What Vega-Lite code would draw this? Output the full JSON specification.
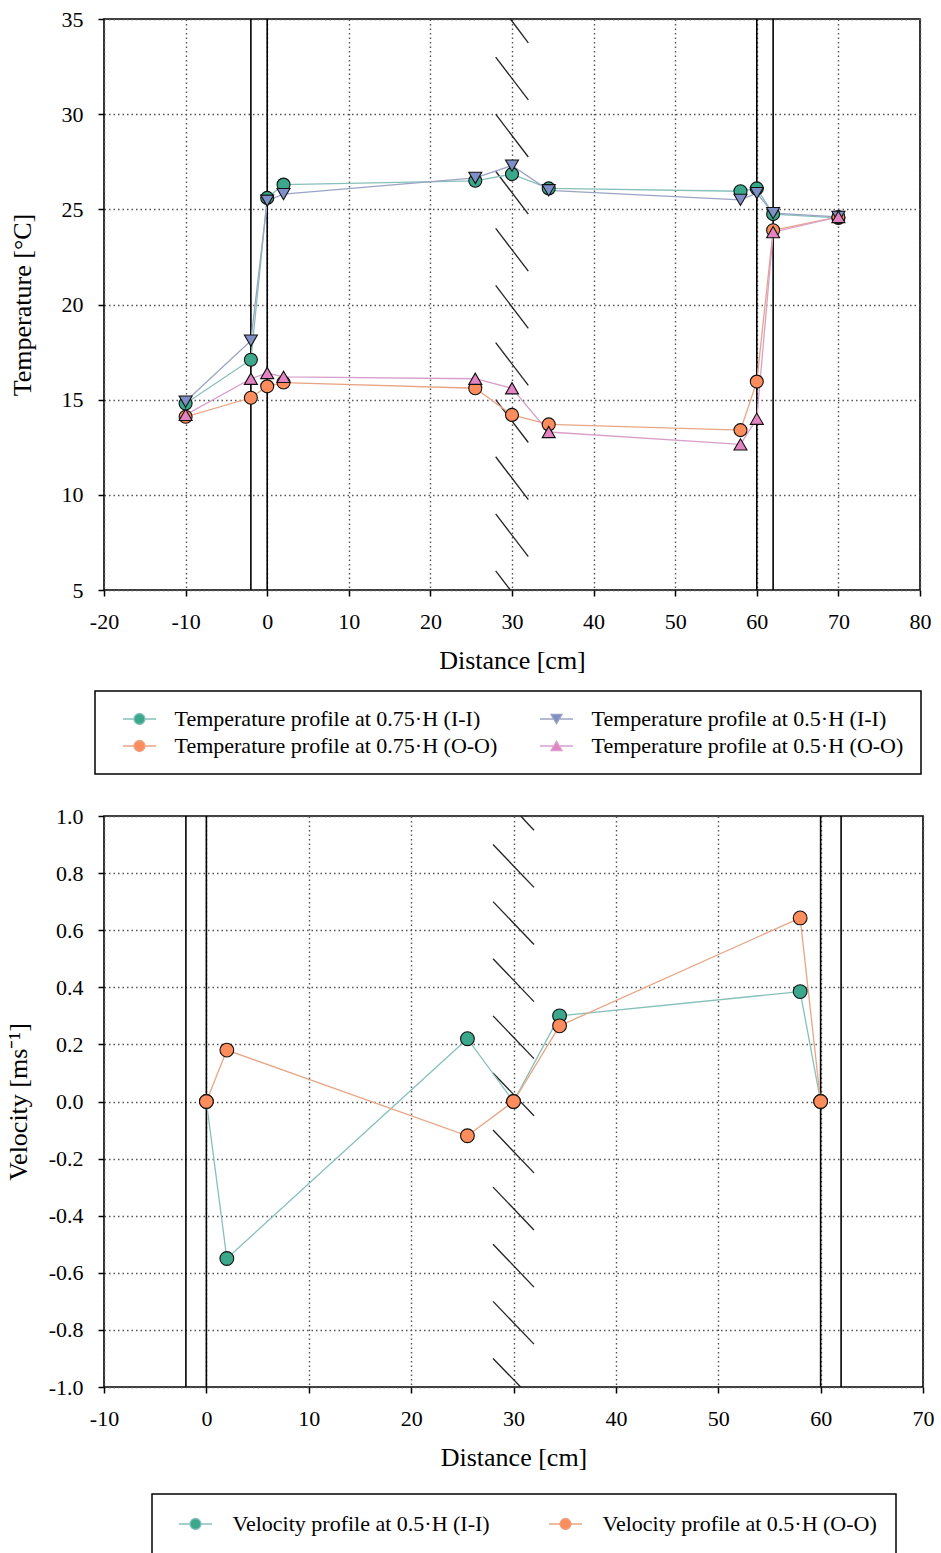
{
  "$schema": "https://vega.github.io/schema/vega-lite/v6.json",
  "background": "white",
  "padding": {"left": 4, "top": 7, "right": 0, "bottom": 0},
  "spacing": 28,
  "resolve": {
    "scale": {"fill": "independent", "stroke": "independent", "shape": "independent", "x": "independent", "y": "independent"},
    "legend": {"fill": "independent", "stroke": "independent", "shape": "independent"}
  },
  "datasets": {
    "temp": [
      {"d": -10, "t": 14.8, "series": "Temperature profile at 0.75·H (I-I)"},
      {"d": -2, "t": 17.1, "series": "Temperature profile at 0.75·H (I-I)"},
      {"d": 0, "t": 25.6, "series": "Temperature profile at 0.75·H (I-I)"},
      {"d": 2, "t": 26.3, "series": "Temperature profile at 0.75·H (I-I)"},
      {"d": 25.5, "t": 26.5, "series": "Temperature profile at 0.75·H (I-I)"},
      {"d": 30, "t": 26.85, "series": "Temperature profile at 0.75·H (I-I)"},
      {"d": 34.5, "t": 26.1, "series": "Temperature profile at 0.75·H (I-I)"},
      {"d": 58, "t": 25.95, "series": "Temperature profile at 0.75·H (I-I)"},
      {"d": 60, "t": 26.1, "series": "Temperature profile at 0.75·H (I-I)"},
      {"d": 62, "t": 24.75, "series": "Temperature profile at 0.75·H (I-I)"},
      {"d": 70, "t": 24.55, "series": "Temperature profile at 0.75·H (I-I)"},
      {"d": -10, "t": 14.1, "series": "Temperature profile at 0.75·H (O-O)"},
      {"d": -2, "t": 15.1, "series": "Temperature profile at 0.75·H (O-O)"},
      {"d": 0, "t": 15.7, "series": "Temperature profile at 0.75·H (O-O)"},
      {"d": 2, "t": 15.9, "series": "Temperature profile at 0.75·H (O-O)"},
      {"d": 25.5, "t": 15.6, "series": "Temperature profile at 0.75·H (O-O)"},
      {"d": 30, "t": 14.2, "series": "Temperature profile at 0.75·H (O-O)"},
      {"d": 34.5, "t": 13.7, "series": "Temperature profile at 0.75·H (O-O)"},
      {"d": 58, "t": 13.4, "series": "Temperature profile at 0.75·H (O-O)"},
      {"d": 60, "t": 15.95, "series": "Temperature profile at 0.75·H (O-O)"},
      {"d": 62, "t": 23.9, "series": "Temperature profile at 0.75·H (O-O)"},
      {"d": 70, "t": 24.6, "series": "Temperature profile at 0.75·H (O-O)"},
      {"d": -10, "t": 14.9, "series": "Temperature profile at 0.5·H (I-I)"},
      {"d": -2, "t": 18.1, "series": "Temperature profile at 0.5·H (I-I)"},
      {"d": 0, "t": 25.45, "series": "Temperature profile at 0.5·H (I-I)"},
      {"d": 2, "t": 25.8, "series": "Temperature profile at 0.5·H (I-I)"},
      {"d": 25.5, "t": 26.65, "series": "Temperature profile at 0.5·H (I-I)"},
      {"d": 30, "t": 27.3, "series": "Temperature profile at 0.5·H (I-I)"},
      {"d": 34.5, "t": 26.0, "series": "Temperature profile at 0.5·H (I-I)"},
      {"d": 58, "t": 25.5, "series": "Temperature profile at 0.5·H (I-I)"},
      {"d": 60, "t": 25.85, "series": "Temperature profile at 0.5·H (I-I)"},
      {"d": 62, "t": 24.8, "series": "Temperature profile at 0.5·H (I-I)"},
      {"d": 70, "t": 24.6, "series": "Temperature profile at 0.5·H (I-I)"},
      {"d": -10, "t": 14.2, "series": "Temperature profile at 0.5·H (O-O)"},
      {"d": -2, "t": 16.1, "series": "Temperature profile at 0.5·H (O-O)"},
      {"d": 0, "t": 16.4, "series": "Temperature profile at 0.5·H (O-O)"},
      {"d": 2, "t": 16.2, "series": "Temperature profile at 0.5·H (O-O)"},
      {"d": 25.5, "t": 16.1, "series": "Temperature profile at 0.5·H (O-O)"},
      {"d": 30, "t": 15.6, "series": "Temperature profile at 0.5·H (O-O)"},
      {"d": 34.5, "t": 13.3, "series": "Temperature profile at 0.5·H (O-O)"},
      {"d": 58, "t": 12.65, "series": "Temperature profile at 0.5·H (O-O)"},
      {"d": 60, "t": 14.0, "series": "Temperature profile at 0.5·H (O-O)"},
      {"d": 62, "t": 23.8, "series": "Temperature profile at 0.5·H (O-O)"},
      {"d": 70, "t": 24.6, "series": "Temperature profile at 0.5·H (O-O)"}
    ],
    "vel": [
      {"d": 0, "v": 0.0, "series": "Velocity profile at 0.5·H (I-I)"},
      {"d": 2, "v": -0.55, "series": "Velocity profile at 0.5·H (I-I)"},
      {"d": 25.5, "v": 0.22, "series": "Velocity profile at 0.5·H (I-I)"},
      {"d": 30, "v": 0.0, "series": "Velocity profile at 0.5·H (I-I)"},
      {"d": 34.5, "v": 0.30, "series": "Velocity profile at 0.5·H (I-I)"},
      {"d": 58, "v": 0.385, "series": "Velocity profile at 0.5·H (I-I)"},
      {"d": 60, "v": 0.0, "series": "Velocity profile at 0.5·H (I-I)"},
      {"d": 0, "v": 0.0, "series": "Velocity profile at 0.5·H (O-O)"},
      {"d": 2, "v": 0.18, "series": "Velocity profile at 0.5·H (O-O)"},
      {"d": 25.5, "v": -0.12, "series": "Velocity profile at 0.5·H (O-O)"},
      {"d": 30, "v": 0.0, "series": "Velocity profile at 0.5·H (O-O)"},
      {"d": 34.5, "v": 0.265, "series": "Velocity profile at 0.5·H (O-O)"},
      {"d": 58, "v": 0.643, "series": "Velocity profile at 0.5·H (O-O)"},
      {"d": 60, "v": 0.0, "series": "Velocity profile at 0.5·H (O-O)"}
    ],
    "walls": [{"x": -2}, {"x": 0}, {"x": 60}, {"x": 62}],
    "hatchTop": [
      {"x1": 29.8, "y1": 35, "x2": 32, "y2": 33.75},
      {"x1": 28, "y1": 33, "x2": 32, "y2": 30.75},
      {"x1": 28, "y1": 30, "x2": 32, "y2": 27.75},
      {"x1": 28, "y1": 27, "x2": 32, "y2": 24.75},
      {"x1": 28, "y1": 24, "x2": 32, "y2": 21.75},
      {"x1": 28, "y1": 21, "x2": 32, "y2": 18.75},
      {"x1": 28, "y1": 18, "x2": 32, "y2": 15.75},
      {"x1": 28, "y1": 15, "x2": 32, "y2": 12.75},
      {"x1": 28, "y1": 12, "x2": 32, "y2": 9.75},
      {"x1": 28, "y1": 9, "x2": 32, "y2": 6.75},
      {"x1": 28, "y1": 6, "x2": 29.8, "y2": 5}
    ],
    "hatchBottom": [
      {"x1": 30.7, "y1": 1.0, "x2": 32, "y2": 0.95},
      {"x1": 28, "y1": 0.9, "x2": 32, "y2": 0.75},
      {"x1": 28, "y1": 0.7, "x2": 32, "y2": 0.55},
      {"x1": 28, "y1": 0.5, "x2": 32, "y2": 0.35},
      {"x1": 28, "y1": 0.3, "x2": 32, "y2": 0.15},
      {"x1": 28, "y1": 0.1, "x2": 32, "y2": -0.05},
      {"x1": 28, "y1": -0.1, "x2": 32, "y2": -0.25},
      {"x1": 28, "y1": -0.3, "x2": 32, "y2": -0.45},
      {"x1": 28, "y1": -0.5, "x2": 32, "y2": -0.65},
      {"x1": 28, "y1": -0.7, "x2": 32, "y2": -0.85},
      {"x1": 28, "y1": -0.9, "x2": 30.7, "y2": -1.0}
    ]
  },
  "vconcat": [
    {
      "width": 816,
      "height": 571,
      "layer": [
        {
          "data": {"name": "walls"},
          "mark": {"type": "rule", "color": "black", "strokeWidth": 1.6},
          "encoding": {
            "x": {"field": "x", "type": "quantitative", "scale": {"domain": [-20, 80], "nice": false},
              "axis": {"title": "Distance [cm]", "values": [-20, -10, 0, 10, 20, 30, 40, 50, 60, 70, 80], "titlePadding": 15}}
          }
        },
        {
          "data": {"name": "hatchTop"},
          "mark": {"type": "rule", "color": "#222", "strokeWidth": 1.3},
          "encoding": {
            "x": {"field": "x1", "type": "quantitative"},
            "x2": {"field": "x2"},
            "y": {"field": "y1", "type": "quantitative", "scale": {"domain": [5, 35], "nice": false},
              "axis": {"title": "Temperature [°C]", "values": [5, 10, 15, 20, 25, 30, 35], "titlePadding": 26}},
            "y2": {"field": "y2"}
          }
        },
        {
          "data": {"name": "temp"},
          "mark": {"type": "line", "strokeWidth": 1.3},
          "encoding": {
            "x": {"field": "d", "type": "quantitative"},
            "y": {"field": "t", "type": "quantitative"},
            "stroke": {"field": "series", "type": "nominal",
              "scale": {"domain": ["Temperature profile at 0.75·H (I-I)", "Temperature profile at 0.75·H (O-O)", "Temperature profile at 0.5·H (I-I)", "Temperature profile at 0.5·H (O-O)"],
                "range": ["#86c0bb", "#e8a585", "#9aa4c4", "#d99fcb"]},
              "legend": {
                "orient": "none", "legendX": -9, "legendY": 672, "title": null,
                "columns": 2, "columnPadding": 31, "rowPadding": 5, "padding": 17,
                "strokeColor": "black", "fillColor": "white",
                "labelFont": "Liberation Serif", "labelFontSize": 22, "labelColor": "black", "labelLimit": 600,
                "symbolSize": 121, "symbolOffset": 16.5, "labelOffset": 24,
                "encode": {
                  "legend": {"update": {"strokeWidth": {"value": 1.5}}},
                  "symbols": {"update": {
                    "shape": {"signal": "indexof(datum.value,'0.5')<0 ? 'M-3,0H-1M1,0H3M-1,0A1,1,0,1,1,1,0A1,1,0,1,1,-1,0Z' : (indexof(datum.value,'I-I')>=0 ? 'M-3,0H-0.5M0.5,0H3M-1,-0.85L1,-0.85L0,0.85Z' : 'M-3,0H-0.5M0.5,0H3M-1,0.85L1,0.85L0,-0.85Z')"},
                    "fill": {"signal": "indexof(datum.value,'0.5')<0 ? (indexof(datum.value,'I-I')>=0 ? '#3ba88b' : '#fd8d5c') : (indexof(datum.value,'I-I')>=0 ? '#7e8fc6' : '#e383c2')"},
                    "stroke": {"signal": "indexof(datum.value,'0.5')<0 ? (indexof(datum.value,'I-I')>=0 ? '#5aa89a' : '#e8956c') : (indexof(datum.value,'I-I')>=0 ? '#7f88aa' : '#d080b8')"},
                    "strokeWidth": {"value": 1.3},
                    "opacity": {"value": 1}
                  }}
                }
              }
            }
          }
        },
        {
          "data": {"name": "temp"},
          "mark": {"type": "point", "filled": true, "stroke": "#111", "strokeWidth": 1.1, "size": 169, "opacity": 1},
          "encoding": {
            "x": {"field": "d", "type": "quantitative"},
            "y": {"field": "t", "type": "quantitative"},
            "shape": {"field": "series", "type": "nominal", "legend": null,
              "scale": {"domain": ["Temperature profile at 0.5·H (I-I)", "Temperature profile at 0.5·H (O-O)", "Temperature profile at 0.75·H (I-I)", "Temperature profile at 0.75·H (O-O)"],
                "range": ["triangle-down", "triangle-up", "circle", "circle"]}},
            "fill": {"field": "series", "type": "nominal",
              "scale": {"domain": ["Temperature profile at 0.75·H (I-I)", "Temperature profile at 0.75·H (O-O)", "Temperature profile at 0.5·H (I-I)", "Temperature profile at 0.5·H (O-O)"],
                "range": ["#3ba88b", "#fd8d5c", "#7e8fc6", "#e383c2"]},
              "legend": {
                "orient": "none", "legendX": -9, "legendY": 672, "title": null,
                "columns": 2, "columnPadding": 31, "rowPadding": 5, "padding": 17,
                "strokeColor": "black", "fillColor": "white",
                "labelFont": "Liberation Serif", "labelFontSize": 22, "labelColor": "black", "labelLimit": 600,
                "symbolSize": 121, "symbolOffset": 16.5, "labelOffset": 24,
                "encode": {
                  "legend": {"update": {"strokeWidth": {"value": 1.5}}},
                  "symbols": {"update": {
                    "shape": {"signal": "indexof(datum.value,'0.5')<0 ? 'M-3,0H-1M1,0H3M-1,0A1,1,0,1,1,1,0A1,1,0,1,1,-1,0Z' : (indexof(datum.value,'I-I')>=0 ? 'M-3,0H-0.5M0.5,0H3M-1,-0.85L1,-0.85L0,0.85Z' : 'M-3,0H-0.5M0.5,0H3M-1,0.85L1,0.85L0,-0.85Z')"},
                    "fill": {"signal": "indexof(datum.value,'0.5')<0 ? (indexof(datum.value,'I-I')>=0 ? '#3ba88b' : '#fd8d5c') : (indexof(datum.value,'I-I')>=0 ? '#7e8fc6' : '#e383c2')"},
                    "stroke": {"signal": "indexof(datum.value,'0.5')<0 ? (indexof(datum.value,'I-I')>=0 ? '#5aa89a' : '#e8956c') : (indexof(datum.value,'I-I')>=0 ? '#7f88aa' : '#d080b8')"},
                    "strokeWidth": {"value": 1.3},
                    "opacity": {"value": 1}
                  }}
                }
              }
            }
          }
        }
      ]
    },
    {
      "width": 819,
      "height": 571,
      "layer": [
        {
          "data": {"name": "walls"},
          "mark": {"type": "rule", "color": "black", "strokeWidth": 1.6},
          "encoding": {
            "x": {"field": "x", "type": "quantitative", "scale": {"domain": [-10, 70], "nice": false},
              "axis": {"title": "Distance [cm]", "values": [-10, 0, 10, 20, 30, 40, 50, 60, 70], "titlePadding": 15}}
          }
        },
        {
          "data": {"name": "hatchBottom"},
          "mark": {"type": "rule", "color": "#222", "strokeWidth": 1.3},
          "encoding": {
            "x": {"field": "x1", "type": "quantitative"},
            "x2": {"field": "x2"},
            "y": {"field": "y1", "type": "quantitative", "scale": {"domain": [-1, 1], "nice": false},
              "axis": {"title": "Velocity [ms⁻¹]", "format": ".1f", "values": [-1, -0.8, -0.6, -0.4, -0.2, 0, 0.2, 0.4, 0.6, 0.8, 1], "titlePadding": 17}},
            "y2": {"field": "y2"}
          }
        },
        {
          "data": {"name": "vel"},
          "mark": {"type": "line", "strokeWidth": 1.3},
          "encoding": {
            "x": {"field": "d", "type": "quantitative"},
            "y": {"field": "v", "type": "quantitative"},
            "stroke": {"field": "series", "type": "nominal",
              "scale": {"domain": ["Velocity profile at 0.5·H (I-I)", "Velocity profile at 0.5·H (O-O)"],
                "range": ["#86c0bb", "#e8a585"]},
              "legend": {
                "orient": "none", "legendX": 48, "legendY": 678, "title": null,
                "columns": 2, "columnPadding": 51, "rowPadding": 5, "padding": 19,
                "strokeColor": "black", "fillColor": "white",
                "labelFont": "Liberation Serif", "labelFontSize": 22, "labelColor": "black", "labelLimit": 600,
                "symbolSize": 121, "symbolOffset": 13.5, "labelOffset": 26,
                "encode": {
                  "legend": {"update": {"strokeWidth": {"value": 1.5}}},
                  "symbols": {"update": {
                    "shape": {"value": "M-3,0H-1M1,0H3M-1,0A1,1,0,1,1,1,0A1,1,0,1,1,-1,0Z"},
                    "fill": {"signal": "indexof(datum.value,'I-I')>=0 ? '#3ba88b' : '#fd8d5c'"},
                    "stroke": {"signal": "indexof(datum.value,'I-I')>=0 ? '#5aa89a' : '#e8956c'"},
                    "strokeWidth": {"value": 1.3},
                    "opacity": {"value": 1}
                  }}
                }
              }
            }
          }
        },
        {
          "data": {"name": "vel"},
          "mark": {"type": "point", "filled": true, "shape": "circle", "stroke": "#111", "strokeWidth": 1.1, "size": 190, "opacity": 1},
          "encoding": {
            "x": {"field": "d", "type": "quantitative"},
            "y": {"field": "v", "type": "quantitative"},
            "fill": {"field": "series", "type": "nominal",
              "scale": {"domain": ["Velocity profile at 0.5·H (I-I)", "Velocity profile at 0.5·H (O-O)"],
                "range": ["#3ba88b", "#fd8d5c"]},
              "legend": {
                "orient": "none", "legendX": 48, "legendY": 678, "title": null,
                "columns": 2, "columnPadding": 51, "rowPadding": 5, "padding": 19,
                "strokeColor": "black", "fillColor": "white",
                "labelFont": "Liberation Serif", "labelFontSize": 22, "labelColor": "black", "labelLimit": 600,
                "symbolSize": 121, "symbolOffset": 13.5, "labelOffset": 26
              }
            }
          }
        }
      ]
    }
  ],
  "config": {
    "locale": {"number": {"decimal": ".", "thousands": ",", "grouping": [3], "currency": ["", ""], "minus": "-"}},
    "view": {"stroke": "black", "strokeWidth": 1.6},
    "axis": {
      "labelFont": "Liberation Serif", "labelFontSize": 22, "labelColor": "black",
      "titleFont": "Liberation Serif", "titleFontSize": 26, "titleFontWeight": "normal", "titleColor": "black",
      "domain": false, "tickColor": "black", "tickSize": 6, "tickWidth": 1.5, "labelPadding": 15,
      "grid": true, "gridColor": "#555", "gridDash": [1.5, 3], "gridWidth": 1.4, "gridOpacity": 1,
      "labelFlush": false
    }
  }
}
